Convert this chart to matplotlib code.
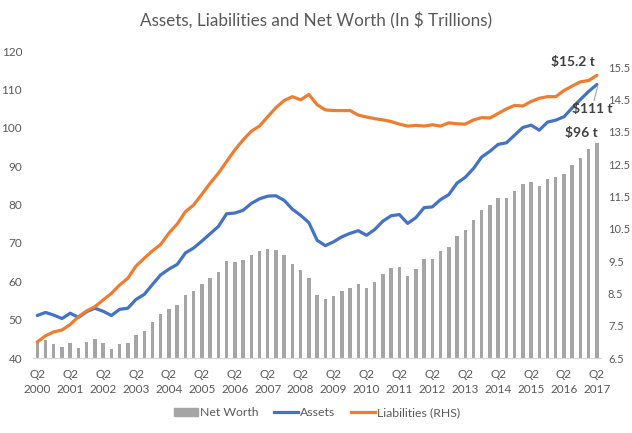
import numpy as np
import matplotlib.pyplot as plt
from matplotlib.patches import Patch
from matplotlib.lines import Line2D

plt.rcParams['font.family'] = ['Lato', 'DejaVu Sans']

# Kvartalsdata Q2 2000 - Q2 2017
years = list(range(2000, 2018))
tick_labels = ['Q2\n' + str(y) for y in years]

net_worth = [43.9, 44.6, 43.7, 42.8, 44.0, 42.6, 44.2, 45.0, 43.9, 42.4, 43.8, 43.9,
             45.9, 47.0, 49.3, 51.6, 52.8, 53.8, 56.4, 57.6, 59.2, 60.8, 62.5,
             65.2, 65.1, 65.5, 66.9, 67.9, 68.4, 68.2, 66.9, 64.5, 63.0, 60.8, 56.4,
             55.3, 56.2, 57.6, 58.3, 59.4, 58.2, 59.7, 62.0, 63.4, 63.7, 61.5, 63.1,
             65.8, 65.9, 67.8, 68.9,
             71.9, 73.4, 75.9, 78.5, 80.0, 81.6, 81.7, 83.6, 85.3, 86.0, 84.8, 86.6,
             87.2, 87.9, 90.2, 92.2, 94.4, 96.1]

assets = [51.1, 51.9, 51.2, 50.3, 51.7, 50.6, 52.1, 53.0, 52.2, 51.1, 52.7, 53.0,
          55.3, 56.6, 59.2, 61.7, 63.2, 64.4, 67.4, 68.7, 70.5, 72.4, 74.3,
          77.6, 77.8, 78.5, 80.3, 81.5, 82.2, 82.3, 81.1, 78.8, 77.2, 75.3, 70.7,
          69.3, 70.3, 71.6, 72.5, 73.2, 72.0, 73.5, 75.7, 77.1, 77.4, 75.1, 76.6,
          79.2, 79.4, 81.3, 82.6,
          85.6, 87.1, 89.4, 92.4, 93.9, 95.7, 96.1, 98.1, 100.1, 100.7, 99.4, 101.5,
          102.0, 102.9, 105.2, 107.4, 109.5, 111.3]

liabilities = [7.00, 7.19, 7.31, 7.37, 7.54, 7.78, 7.96, 8.09, 8.30, 8.50,
               8.76, 8.97, 9.35, 9.59, 9.82, 10.02, 10.37, 10.65, 11.03, 11.24,
               11.57, 11.91, 12.22, 12.58, 12.94, 13.25, 13.52, 13.68, 13.97, 14.25,
               14.47, 14.59, 14.49, 14.66, 14.34, 14.18, 14.16, 14.16, 14.16, 14.02,
               13.96, 13.91, 13.87, 13.82, 13.74, 13.68, 13.70, 13.68, 13.72, 13.68,
               13.78, 13.75, 13.74, 13.87, 13.94, 13.93, 14.07, 14.21, 14.32, 14.30,
               14.44, 14.54, 14.59, 14.59, 14.78, 14.92, 15.05, 15.09, 15.25]

grå = '#A5A5A5'
blå = '#4472C4'
orange = '#ED7D31'
text_färg = '#595959'

x = np.arange(len(net_worth))

fig = plt.figure(figsize=(6.32, 4.33), dpi=100)
ax = fig.add_axes([0.0525, 0.173, 0.8985, 0.709])
ax2 = ax.twinx()

ax.bar(x, net_worth, width=0.42, color=grå, zorder=1)
ax.plot(x, assets, color=blå, lw=2.3, zorder=3, solid_capstyle='round')
ax2.plot(x, liabilities, color=orange, lw=2.3, solid_capstyle='round')

ax.set_xlim(-0.5, len(x) - 0.5)
ax.set_ylim(40, 120)
ax.set_yticks(range(40, 121, 10))
ax2.set_ylim(6.5, 16.0)
ax2.set_yticks(np.arange(6.5, 15.6, 1.0))
ax2.set_yticklabels([f'{v:.1f}' for v in np.arange(6.5, 15.6, 1.0)])
ax.set_xticks(x[::4])
ax.set_xticklabels(tick_labels, linespacing=1.45)

# Stil: inga ramar utom x-axeln
for a in (ax, ax2):
    for s in ['top', 'left', 'right']:
        a.spines[s].set_visible(False)
    a.spines['bottom'].set_color('#D9D9D9')
    a.tick_params(length=0, colors=text_färg, labelsize=8.5)
ax.tick_params(axis='y', pad=8)
ax2.tick_params(axis='y', pad=5, labelsize=8)
ax.tick_params(axis='x', pad=8)

fig.suptitle('Assets, Liabilities and Net Worth (In $ Trillions)', y=0.972,
             fontsize=12.3, color=text_färg)

# Etiketter vid sista punkten
ax2.text(65.1, 15.66, '$15.2 t', ha='center', va='center', fontsize=10,
         fontweight='bold', color='#404040')
ax.annotate('$111 t', xy=(68.1, 111.0), xytext=(67.4, 104.8), ha='center',
            va='center', fontsize=10, fontweight='bold', color='#404040',
            arrowprops=dict(arrowstyle='-', color='#A6A6A6', lw=0.8,
                            shrinkA=0, shrinkB=0), zorder=5)
ax.text(66.1, 98.6, '$96 t', ha='center', va='center', fontsize=10,
        fontweight='bold', color='#404040')

handles = [Patch(color=grå), Line2D([], [], color=blå, lw=2.3),
           Line2D([], [], color=orange, lw=2.3)]
fig.legend(handles, ['Net Worth', 'Assets', 'Liabilities (RHS)'],
           loc='center', bbox_to_anchor=(0.502, 0.047), ncol=3, frameon=False,
           fontsize=8.8, labelcolor=text_färg, handlelength=1.9,
           handleheight=0.6, columnspacing=1.3, handletextpad=0.2)

plt.savefig('out.png', dpi=100)
